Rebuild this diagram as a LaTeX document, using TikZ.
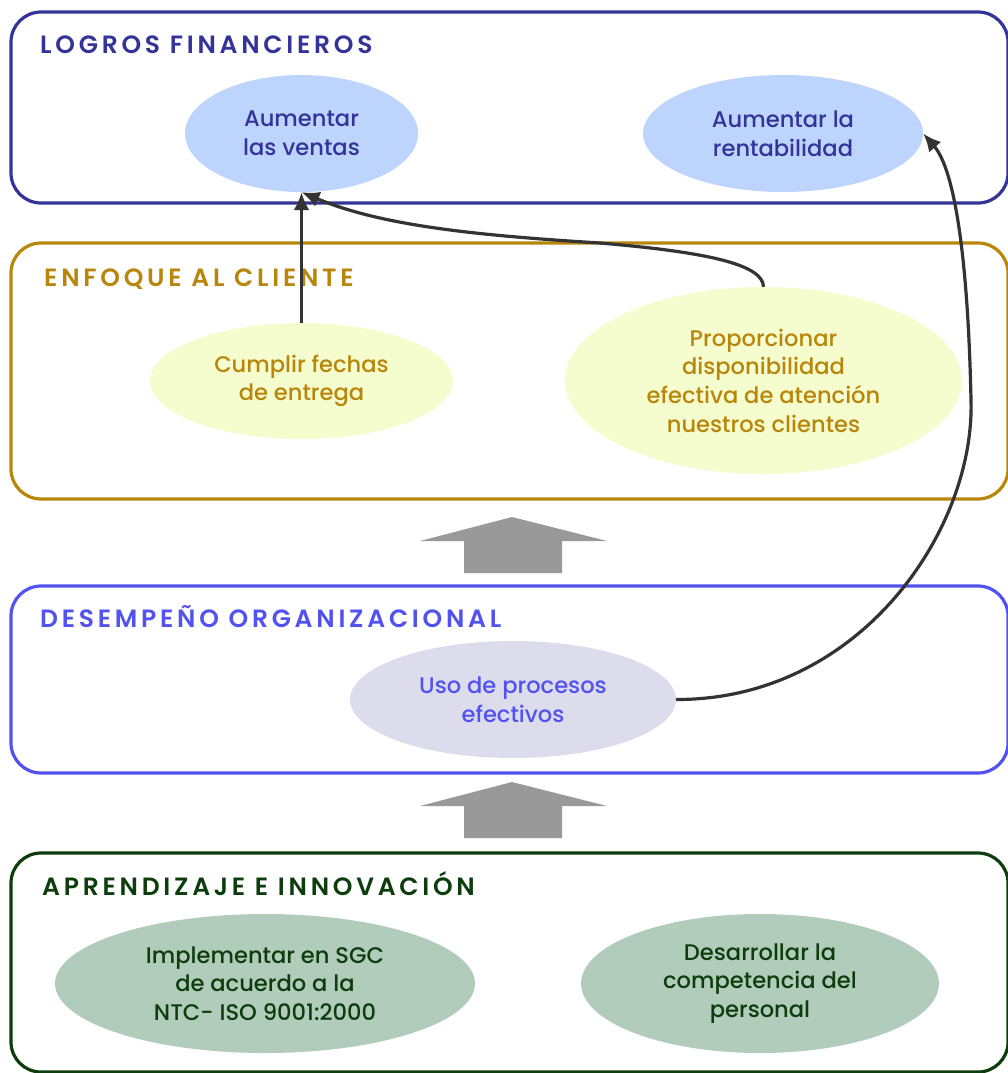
\documentclass[tikz,border=0pt]{standalone}
\usepackage{fontspec}
\setmainfont{Poppins}
\newfontfamily\goalfont{Poppins Medium}
\newfontfamily\headfont[LetterSpace=15]{Poppins SemiBold}
\usetikzlibrary{shapes.geometric,arrows.meta}
\definecolor{finblue}{HTML}{333399}
\definecolor{finfill}{HTML}{BDD5FD}
\definecolor{cligold}{HTML}{B8860B}
\definecolor{clifill}{HTML}{F5FCCD}
\definecolor{orgblue}{HTML}{5252F0}
\definecolor{orgfill}{HTML}{DCDCEC}
\definecolor{aprgreen}{HTML}{0D3D0D}
\definecolor{aprfill}{HTML}{B1CCBB}
\definecolor{linkgray}{HTML}{333333}
\definecolor{bigarrow}{HTML}{999999}
\tikzset{
  panel/.style={line width=3.2pt, rounded corners=30pt},
  paneltitle/.style={anchor=base west, font=\fontsize{25}{28}\headfont, inner sep=0pt},
  goal/.style={ellipse, inner sep=0pt, align=center,
    font=\fontsize{22.6}{28.6}\goalfont},
  link/.style={draw=linkgray, line width=3.2pt, -{Latex[length=18pt,width=16pt]}},
}
\begin{document}
\begin{tikzpicture}[x=1pt,y=-1pt]
\useasboundingbox (0,0) rectangle (1007,1073);

% --- Logros financieros ---
\draw[panel, finblue] (11,12) rectangle (1008,203);
\node[paneltitle, text=finblue] (t1) at (40,53) {LOGROS FINANCIEROS};
\node[goal, fill=finfill, text=finblue, minimum width=233pt, minimum height=117pt]
  (ventas) at (301.5,133.5) {Aumentar\\las ventas};
\node[goal, fill=finfill, text=finblue, minimum width=280pt, minimum height=117pt]
  (rent) at (783,133.5) {Aumentar la\\rentabilidad};

% --- Enfoque al cliente ---
\draw[panel, cligold] (11,243) rectangle (1008,499);
\node[paneltitle, text=cligold] (t2) at (44,286) {ENFOQUE AL CLIENTE};
\node[goal, fill=clifill, text=cligold, minimum width=303pt, minimum height=116pt]
  (fechas) at (301.5,381) {Cumplir fechas\\de entrega};
\node[goal, fill=clifill, text=cligold, minimum width=397pt, minimum height=187pt]
  (prop) at (763.5,380.5) {Proporcionar\\disponibilidad\\efectiva de atención\\nuestros clientes};

% --- Desempeño organizacional ---
\draw[panel, orgblue] (11,586) rectangle (1008,773);
\node[paneltitle, text=orgblue] (t3) at (40,627) {DESEMPEÑO ORGANIZACIONAL};
\node[goal, fill=orgfill, text=orgblue, minimum width=326pt, minimum height=117pt]
  (uso) at (513,699.5) {Uso de procesos\\efectivos};

% --- Aprendizaje e innovación ---
\draw[panel, aprgreen] (11,853) rectangle (1008,1072);
\node[paneltitle, text=aprgreen] (t4) at (42,895) {APRENDIZAJE E INNOVACIÓN};
\node[goal, fill=aprfill, text=aprgreen, minimum width=420pt, minimum height=139pt]
  (sgc) at (265,983.5) {Implementar en SGC\\de acuerdo a la\\NTC- ISO 9001:2000};
\node[goal, fill=aprfill, text=aprgreen, minimum width=358pt, minimum height=139pt]
  (comp) at (760,983.5) {Desarrollar la\\competencia del\\personal};

% --- block arrows between levels ---
\fill[bigarrow] (464,573) -- (464,541) -- (420,541) -- (512,517) -- (607,541)
  -- (562,541) -- (562,573) -- cycle;
\fill[bigarrow] (464,838) -- (464,806) -- (420,806) -- (512,782) -- (607,806)
  -- (562,806) -- (562,838) -- cycle;

% --- cause-effect links ---
\draw[link] (fechas.north) -- (ventas.south);
\draw[link] (prop.north) .. controls (763,264) and (705,252) .. (600,243)
  .. controls (470,235) and (380,225) .. (ventas.south);
\draw[link] (uso.east) .. controls (860,700) and (975,530) .. (971,400)
  .. controls (968,260) and (955,170) .. (rent.east);
\end{tikzpicture}
\end{document}
